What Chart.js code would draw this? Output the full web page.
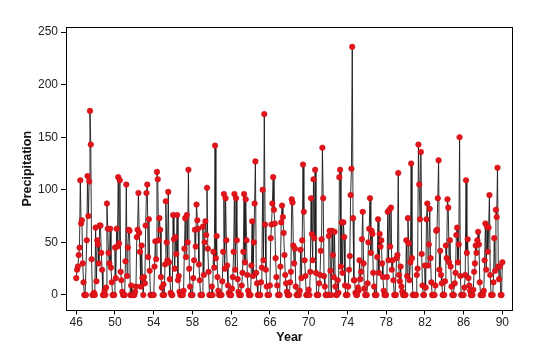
<!DOCTYPE html>
<html>
<head>
<meta charset="utf-8">
<script src="https://cdn.jsdelivr.net/npm/chart.js@4.4.1/dist/chart.umd.min.js"></script>
<style>
  body { margin: 0; background: #fff; }
  #chart { display: block; }
</style>
</head>
<body>
<canvas id="chart" width="540" height="361"></canvas>
<script>
// monthly precipitation, Jan 1946 .. Jan 1990 (one row per year)
const startYear = 46;
const precipitation = [
    16, 24, 27, 38, 45, 109, 68, 71, 30, 12, 0, 0,      // 46
    0, 52, 113, 75, 108, 175, 143, 34, 0, 0, 2, 0,      // 47
    64, 13, 52, 48, 30, 66, 66, 40, 24, 0, 0, 4,        // 48
    0, 7, 87, 63, 40, 30, 63, 26, 12, 0, 0, 0,          // 49
    45, 16, 63, 46, 112, 49, 109, 22, 14, 3, 0, 0,      // 50
    0, 32, 105, 18, 45, 62, 61, 0, 9, 0, 0, 0,          // 51
    0, 3, 8, 55, 62, 97, 59, 41, 8, 47, 16, 0,          // 52
    17, 11, 66, 97, 105, 36, 72, 23, 0, 0, 0, 0,        // 53
    0, 27, 51, 34, 117, 110, 52, 73, 62, 17, 7, 0,      // 54
    10, 0, 29, 89, 50, 33, 98, 31, 15, 2, 0, 0,         // 55
    76, 53, 25, 55, 39, 76, 14, 18, 3, 0, 0, 0,         // 56
    0, 4, 44, 73, 36, 76, 50, 119, 25, 8, 0, 0,         // 57
    0, 16, 33, 62, 46, 86, 71, 63, 29, 14, 0, 0,        // 58
    0, 65, 19, 50, 70, 57, 102, 44, 22, 0, 0, 0,        // 59
    8, 0, 41, 26, 142, 35, 56, 17, 4, 0, 0, 0,          // 60
    0, 13, 41, 96, 25, 92, 52, 28, 9, 2, 0, 0,          // 61
    0, 6, 17, 41, 96, 24, 92, 52, 15, 3, 0, 0,          // 62
    0, 9, 21, 41, 96, 31, 91, 52, 19, 4, 0, 0,          // 63
    0, 28, 70, 18, 50, 87, 127, 21, 11, 0, 0, 0,        // 64
    0, 12, 26, 100, 33, 172, 67, 24, 8, 0, 0, 0,        // 65
    9, 54, 67, 87, 112, 81, 68, 35, 17, 9, 0, 0,        // 66
    0, 27, 69, 85, 74, 59, 38, 19, 11, 3, 0, 0,         // 67
    0, 12, 22, 91, 88, 47, 30, 44, 8, 0, 0, 0,          // 68
    0, 4, 43, 16, 52, 124, 79, 33, 18, 0, 0, 0,         // 69
    5, 0, 22, 92, 58, 33, 110, 54, 119, 21, 0, 0,       // 70
    0, 11, 19, 42, 53, 140, 92, 18, 8, 0, 0, 0,         // 71
    0, 56, 61, 23, 0, 61, 38, 17, 60, 8, 0, 0,          // 72
    14, 2, 112, 119, 27, 69, 21, 69, 55, 9, 0, 0,       // 73
    0, 8, 24, 37, 95, 120, 236, 73, 14, 14, 2, 0,       // 74
    0, 7, 4, 33, 15, 22, 53, 79, 30, 6, 0, 0,           // 75
    0, 11, 50, 63, 92, 40, 61, 58, 21, 8, 0, 0,         // 76
    0, 36, 72, 21, 58, 46, 52, 30, 17, 4, 0, 0,         // 77
    0, 17, 79, 33, 81, 46, 83, 24, 33, 14, 0, 0,        // 78
    0, 35, 38, 116, 19, 13, 27, 8, 3, 0, 0, 0,          // 79
    0, 52, 18, 73, 49, 14, 31, 125, 35, 0, 0, 0,        // 80
    0, 0, 19, 25, 143, 105, 72, 136, 39, 9, 0, 0,       // 81
    28, 7, 72, 87, 28, 48, 82, 35, 12, 0, 0, 0,         // 82
    0, 9, 61, 62, 92, 128, 24, 42, 19, 11, 0, 0,        // 83
    0, 13, 47, 35, 91, 83, 31, 52, 27, 8, 0, 0,         // 84
    0, 11, 21, 57, 64, 31, 48, 150, 18, 0, 0, 0,        // 85
    0, 7, 19, 109, 40, 53, 16, 9, 4, 0, 0, 0,           // 86
    5, 22, 30, 47, 40, 52, 60, 48, 12, 0, 0, 0,         // 87
    0, 4, 33, 68, 24, 65, 41, 64, 95, 19, 0, 0,         // 88
    0, 12, 54, 23, 81, 74, 121, 27, 15, 27, 0, 0,       // 89
    31                                                  // 90
];
const yearTicks = [46, 50, 54, 58, 62, 66, 70, 74, 78, 82, 86, 90];
const precipTicks = [0, 50, 100, 150, 200, 250];

const points = precipitation.map((v, i) => ({ x: startYear + i / 12, y: v }));

const tickFont = { family: 'Liberation Sans', size: 12 };
const titleFont = { family: 'Liberation Sans', size: 12.5, weight: 'bold' };

// box around the plot area
const frame = {
    id: 'frame',
    afterDraw(chart) {
        const a = chart.chartArea;
        const ctx = chart.ctx;
        ctx.save();
        ctx.strokeStyle = '#000';
        ctx.lineWidth = 1;
        ctx.strokeRect(Math.round(a.left) + 0.5, Math.round(a.top) + 0.5,
            Math.round(a.right - a.left) - 1, Math.round(a.bottom - a.top) - 1);
        ctx.restore();
    }
};

new Chart(document.getElementById('chart'), {
    type: 'line',
    data: {
        datasets: [{
            data: points,
            borderColor: '#1a1a1a',
            borderWidth: 0.9,
            pointRadius: 2.8,
            pointBackgroundColor: '#e3151b',
            pointBorderColor: '#c40d12',
            pointBorderWidth: 0.5,
            tension: 0,
        }],
    },
    options: {
        responsive: false,
        animation: false,
        devicePixelRatio: 1,
        layout: { padding: { left: 0, right: 27, top: 27, bottom: 0 } },
        plugins: {
            legend: { display: false },
            tooltip: { enabled: false },
        },
        scales: {
            x: {
                type: 'linear',
                min: 44.94,
                max: 91.1,
                afterBuildTicks: (scale) => { scale.ticks = yearTicks.map(v => ({ value: v })); },
                afterFit: (scale) => { scale.height = 50.5; },
                ticks: { font: tickFont, color: '#222', padding: 1, maxRotation: 0, callback: (v) => String(v) },
                grid: { drawOnChartArea: false, drawTicks: true, tickLength: 4, color: '#000' },
                border: { display: false },
                title: { display: true, text: 'Year', font: titleFont, color: '#111', padding: 16 },
            },
            y: {
                min: -14.8,
                max: 254.8,
                afterBuildTicks: (scale) => { scale.ticks = precipTicks.map(v => ({ value: v })); },
                afterFit: (scale) => { scale.width = 66; },
                ticks: { font: tickFont, color: '#222', padding: 3, callback: (v) => String(v) },
                grid: { drawOnChartArea: false, drawTicks: true, tickLength: 5, color: '#000' },
                border: { display: false },
                title: { display: true, text: 'Precipitation', font: titleFont, color: '#111', padding: 20 },
            },
        },
    },
    plugins: [frame],
});
</script>
</body>
</html>
